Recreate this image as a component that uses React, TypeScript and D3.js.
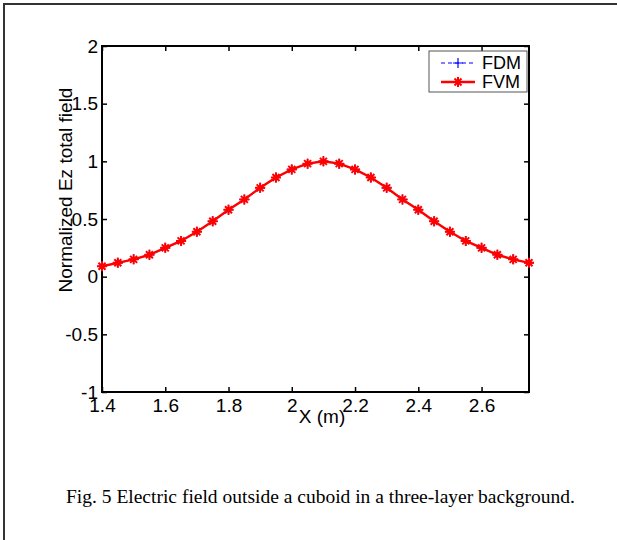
import React, { useRef, useEffect } from 'react';
import * as d3 from 'd3';

// sample positions along x (m)
const xPositions = [
  1.4, 1.45, 1.5, 1.55, 1.6, 1.65, 1.7, 1.75, 1.8, 1.85, 1.9, 1.95, 2.0, 2.05,
  2.1, 2.15, 2.2, 2.25, 2.3, 2.35, 2.4, 2.45, 2.5, 2.55, 2.6, 2.65, 2.7, 2.75,
];
const fdmValues = [
  0.09, 0.12, 0.15, 0.19, 0.25, 0.31, 0.39, 0.48, 0.58, 0.67, 0.77, 0.86, 0.93, 0.98,
  1.0, 0.98, 0.93, 0.86, 0.77, 0.67, 0.58, 0.48, 0.39, 0.31, 0.25, 0.19, 0.15, 0.12,
];
const fvmValues = [
  0.09, 0.12, 0.15, 0.19, 0.25, 0.31, 0.39, 0.48, 0.58, 0.67, 0.77, 0.86, 0.93, 0.98,
  1.0, 0.98, 0.93, 0.86, 0.77, 0.67, 0.58, 0.48, 0.39, 0.31, 0.25, 0.19, 0.15, 0.12,
];
const xTicks = [1.4, 1.6, 1.8, 2, 2.2, 2.4, 2.6];
const yTicks = [-1, -0.5, 0, 0.5, 1, 1.5, 2];
const seriesNames = ['FDM', 'FVM'];
const caption = 'Fig. 5 Electric field outside a cuboid in a three-layer background.';

const FONT = 'Arial, "Liberation Sans", Helvetica, sans-serif';
const STAR = 'M-5,0H5M0,-5V5M-3.5,-3.5L3.5,3.5M-3.5,3.5L3.5,-3.5';
const PLUS = 'M-5,0H5M0,-5V5';

function FieldChart() {
  const svgRef = useRef(null);

  useEffect(() => {
    const svg = d3.select(svgRef.current);
    svg.selectAll('*').remove();

    const left = 102;
    const top = 46;
    const right = 529;
    const bottom = 392;

    const x = d3.scaleLinear().domain([1.4, 2.75]).range([left, right]);
    const y = d3.scaleLinear().domain([-1, 2]).range([bottom, top]);

    // page frame (only top and left edges show)
    svg.append('path')
      .attr('d', 'M4,540V4H617')
      .attr('fill', 'none')
      .attr('stroke', '#333')
      .attr('stroke-width', 2);

    const fmt = (d) => String(d);

    const bottomAxis = svg.append('g')
      .attr('transform', `translate(0,${bottom})`)
      .call(d3.axisBottom(x).tickValues(xTicks).tickSizeInner(-5).tickSizeOuter(0).tickPadding(7).tickFormat(fmt));
    const leftAxis = svg.append('g')
      .attr('transform', `translate(${left},0)`)
      .call(d3.axisLeft(y).tickValues(yTicks).tickSizeInner(-5).tickSizeOuter(0).tickPadding(4).tickFormat(fmt));
    const topAxis = svg.append('g')
      .attr('transform', `translate(0,${top})`)
      .call(d3.axisTop(x).tickValues(xTicks).tickSizeInner(-5).tickSizeOuter(0).tickFormat(() => ''));
    const rightAxis = svg.append('g')
      .attr('transform', `translate(${right},0)`)
      .call(d3.axisRight(y).tickValues(yTicks).tickSizeInner(-5).tickSizeOuter(0).tickFormat(() => ''));

    [bottomAxis, leftAxis, topAxis, rightAxis].forEach((g) => {
      g.select('.domain').remove();
      g.selectAll('line').attr('stroke', '#000').attr('stroke-width', 1.5);
      g.selectAll('text')
        .attr('fill', '#000')
        .attr('font-family', FONT)
        .attr('font-size', 19);
    });

    svg.append('rect')
      .attr('x', left)
      .attr('y', top)
      .attr('width', right - left)
      .attr('height', bottom - top)
      .attr('fill', 'none')
      .attr('stroke', '#000')
      .attr('stroke-width', 2);

    const line = d3.line()
      .x((d) => x(d[0]))
      .y((d) => y(d[1]));

    const fdm = xPositions.map((v, i) => [v, fdmValues[i]]);
    const fvm = xPositions.map((v, i) => [v, fvmValues[i]]);

    svg.append('path')
      .attr('d', line(fdm))
      .attr('fill', 'none')
      .attr('stroke', '#0000ff')
      .attr('stroke-width', 1.2)
      .attr('stroke-dasharray', '4,3');
    svg.append('g')
      .selectAll('path')
      .data(fdm)
      .join('path')
      .attr('d', PLUS)
      .attr('transform', (d) => `translate(${x(d[0])},${y(d[1])})`)
      .attr('stroke', '#0000ff')
      .attr('stroke-width', 1.2);

    svg.append('path')
      .attr('d', line(fvm))
      .attr('fill', 'none')
      .attr('stroke', '#ff0000')
      .attr('stroke-width', 2.4);
    svg.append('g')
      .selectAll('path')
      .data(fvm)
      .join('path')
      .attr('d', STAR)
      .attr('transform', (d) => `translate(${x(d[0])},${y(d[1])})`)
      .attr('stroke', '#ff0000')
      .attr('stroke-width', 2);

    // legend
    const legend = svg.append('g').attr('transform', 'translate(429,51)');
    legend.append('rect')
      .attr('width', 98)
      .attr('height', 41)
      .attr('fill', '#fff')
      .attr('stroke', '#555')
      .attr('stroke-width', 1);
    seriesNames.forEach((name, i) => {
      const ly = 12 + i * 19;
      const blue = i === 0;
      legend.append('line')
        .attr('x1', 12).attr('x2', 46)
        .attr('y1', ly).attr('y2', ly)
        .attr('stroke', blue ? '#0000ff' : '#ff0000')
        .attr('stroke-width', blue ? 1.2 : 2.4)
        .attr('stroke-dasharray', blue ? '4,3' : null);
      legend.append('path')
        .attr('d', blue ? PLUS : STAR)
        .attr('transform', `translate(29,${ly})`)
        .attr('stroke', blue ? '#0000ff' : '#ff0000')
        .attr('stroke-width', blue ? 1.2 : 2);
      legend.append('text')
        .attr('x', 53)
        .attr('y', ly)
        .attr('dy', '0.35em')
        .attr('font-family', FONT)
        .attr('font-size', 18)
        .text(name);
    });

    // axis labels
    svg.append('text')
      .attr('x', 322)
      .attr('y', 423)
      .attr('text-anchor', 'middle')
      .attr('font-family', FONT)
      .attr('font-size', 19)
      .text('X (m)');
    svg.append('text')
      .attr('transform', 'translate(72,190) rotate(-90)')
      .attr('text-anchor', 'middle')
      .attr('font-family', FONT)
      .attr('font-size', 19)
      .text('Normalized Ez total field');

    svg.append('text')
      .attr('x', 66)
      .attr('y', 503)
      .attr('font-family', '"Times New Roman", "Liberation Serif", serif')
      .attr('font-size', 19.5)
      .text(caption);
  }, []);

  return (
    <svg
      ref={svgRef}
      width={617}
      height={540}
      style={{ position: 'absolute', left: 0, top: 0, background: '#fff' }}
    ></svg>
  );
}

export default function App() {
  return <FieldChart />;
}
